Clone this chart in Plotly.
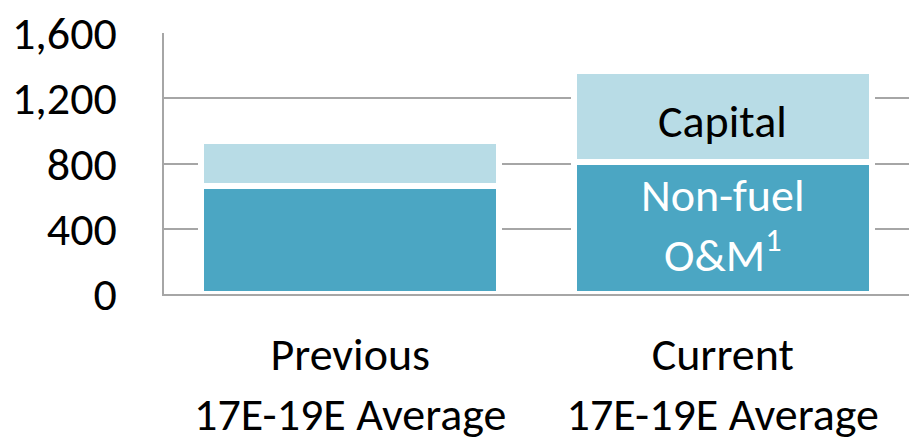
import plotly.graph_objects as go

# Average annual spend, by period
categories = ["Previous<br>17E-19E Average", "Current<br>17E-19E Average"]
non_fuel_om = [665, 810]
capital = [270, 555]
tick_values = [0, 400, 800, 1200, 1600]
tick_labels = ["0", "400", "800", "1,200", "1,600"]

FONT = "Calibri, Carlito, Lato, sans-serif"
SIZE = 46
DARK = "#4BA6C3"
LIGHT = "#B8DCE6"
GRID = "#A6A6A6"

fig = go.Figure()
fig.add_trace(go.Bar(
    x=categories, y=non_fuel_om, name="Non-fuel O&M",
    marker=dict(color=DARK, line=dict(color="white", width=6)),
))
fig.add_trace(go.Bar(
    x=categories, y=capital, name="Capital",
    marker=dict(color=LIGHT, line=dict(color="white", width=6)),
))

# Segment names written inside the right-hand column
fig.add_annotation(
    x=categories[1], y=non_fuel_om[1] + capital[1] / 2, text="Capital",
    showarrow=False, yshift=-4, font=dict(family=FONT, size=SIZE, color="black"),
)
fig.add_annotation(
    x=categories[1], y=non_fuel_om[1] / 2, text="Non-fuel<br>O&M<sup>1</sup>",
    showarrow=False, yshift=3, font=dict(family=FONT, size=SIZE, color="white"),
)

fig.update_layout(
    barmode="stack",
    bargap=0.2,
    width=914, height=447,
    margin=dict(l=164, r=5, t=32, b=152),
    paper_bgcolor="white", plot_bgcolor="white",
    showlegend=False,
    font=dict(family=FONT, size=SIZE, color="black"),
)
fig.update_yaxes(
    range=[0, 1600], tickvals=tick_values, ticktext=tick_labels,
    showgrid=True, gridcolor=GRID, gridwidth=2,
    showline=True, linecolor=GRID, linewidth=2,
    zeroline=False, ticks="", ticklabelstandoff=36,
)
fig.update_xaxes(
    showline=True, linecolor=GRID, linewidth=2,
    ticks="", ticklabelstandoff=19,
)

fig.write_html("out.html")
